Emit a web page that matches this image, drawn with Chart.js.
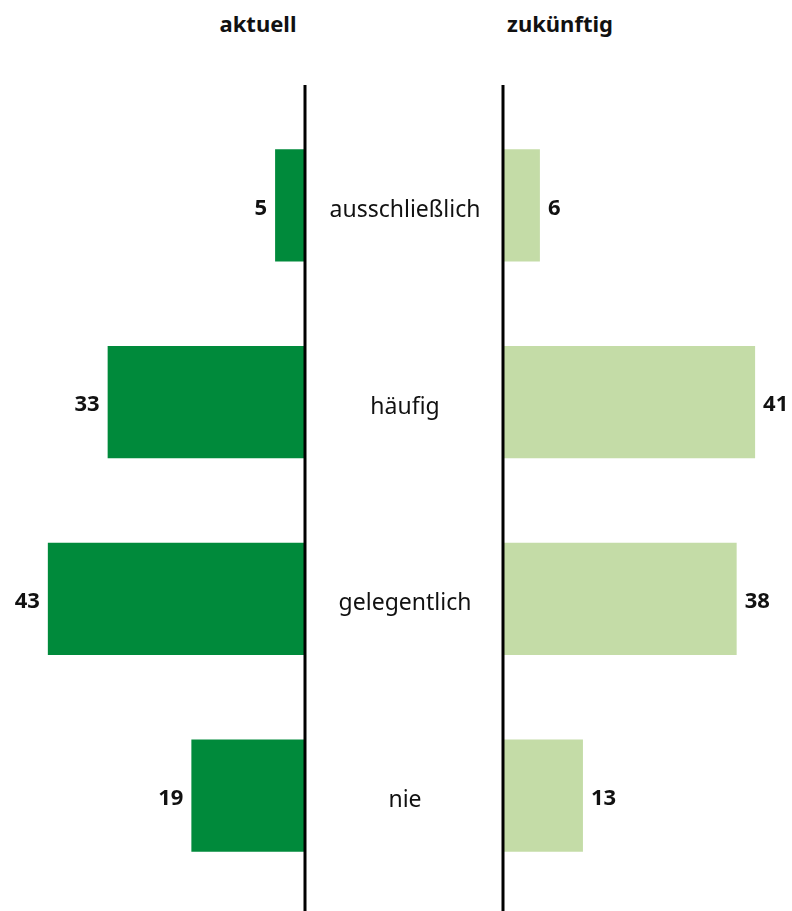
<!DOCTYPE html>
<html lang="de">
<head>
<meta charset="utf-8">
<script src="https://cdn.jsdelivr.net/npm/chart.js@4.4.0/dist/chart.umd.min.js"></script>
<style>
  body { margin: 0; background: #fff; font-family: "Noto Sans", sans-serif; }
  #wrap { position: relative; width: 792px; height: 911px; }
  .titel { position: absolute; top: 8px; font-weight: bold; font-size: 22px; color: #111; transform: translateX(-50%); white-space: nowrap; }
  #leftChart { position: absolute; left: 0; top: 0; }
  #rightChart { position: absolute; left: 490px; top: 0; }
</style>
</head>
<body>
<div id="wrap">
  <div class="titel" style="left:258px">aktuell</div>
  <div class="titel" style="left:560px">zukünftig</div>
  <canvas id="leftChart" width="503" height="911"></canvas>
  <canvas id="rightChart" width="302" height="911"></canvas>
</div>
<script>
const categories = ['ausschließlich', 'häufig', 'gelegentlich', 'nie'];
const aktuell = [5, 33, 43, 19];
const zukuenftig = [6, 41, 38, 13];

const dunkelGruen = '#008a3b';
const hellGruen = '#c4dca7';

// schwarze Nulllinie, etwas über die Balkenfläche hinaus
const zeroLine = {
    id: 'zeroLine',
    afterDatasetsDraw(chart) {
        const ctx = chart.ctx;
        const x = chart.scales.x.getPixelForValue(0);
        ctx.save();
        ctx.strokeStyle = '#000';
        ctx.lineWidth = 3;
        ctx.beginPath();
        ctx.moveTo(x, chart.chartArea.top - 22);
        ctx.lineTo(x, chart.height);
        ctx.stroke();
        ctx.restore();
    }
};

// Zahlen neben den Balken
const valueLabels = {
    id: 'valueLabels',
    afterDatasetsDraw(chart, args, opts) {
        const ctx = chart.ctx;
        const meta = chart.getDatasetMeta(0);
        const data = chart.data.datasets[0].data;
        ctx.save();
        ctx.font = 'bold 22px "Noto Sans"';
        ctx.fillStyle = '#111';
        ctx.textBaseline = 'middle';
        meta.data.forEach((bar, i) => {
            if (opts.side === 'left') {
                ctx.textAlign = 'right';
                ctx.fillText(data[i], bar.x - 8, bar.y + 3);
            } else {
                ctx.textAlign = 'left';
                ctx.fillText(data[i], bar.x + 8, bar.y + 3);
            }
        });
        ctx.restore();
    }
};

// Kategorien in der Mitte zwischen beiden Achsen
const middleLabels = {
    id: 'middleLabels',
    afterDraw(chart) {
        const ctx = chart.ctx;
        const meta = chart.getDatasetMeta(0);
        const cx = (chart.chartArea.right + chart.width) / 2 + 1;
        ctx.save();
        ctx.font = '23px "Noto Sans"';
        ctx.fillStyle = '#111';
        ctx.textAlign = 'center';
        ctx.textBaseline = 'middle';
        meta.data.forEach((bar, i) => {
            ctx.fillText(categories[i], cx, bar.y + 5);
        });
        ctx.restore();
    }
};

function makeOptions(max, reverse, padding, side) {
    return {
        indexAxis: 'y',
        responsive: false,
        animation: false,
        layout: { padding: padding },
        plugins: {
            legend: { display: false },
            tooltip: { enabled: false },
            valueLabels: { side: side }
        },
        scales: {
            x: { display: false, min: 0, max: max, reverse: reverse },
            y: { display: false }
        }
    };
}

new Chart(document.getElementById('leftChart'), {
    type: 'bar',
    data: {
        labels: categories,
        datasets: [{
            data: aktuell,
            backgroundColor: dunkelGruen,
            categoryPercentage: 1,
            barPercentage: 0.57
        }]
    },
    options: makeOptions(51, true, { top: 107, bottom: 17, left: 0, right: 198 }, 'left'),
    plugins: [zeroLine, valueLabels, middleLabels]
});

new Chart(document.getElementById('rightChart'), {
    type: 'bar',
    data: {
        labels: categories,
        datasets: [{
            data: zukuenftig,
            backgroundColor: hellGruen,
            categoryPercentage: 1,
            barPercentage: 0.57
        }]
    },
    options: makeOptions(47, false, { top: 107, bottom: 17, left: 13, right: 0 }, 'right'),
    plugins: [zeroLine, valueLabels]
});
</script>
</body>
</html>
